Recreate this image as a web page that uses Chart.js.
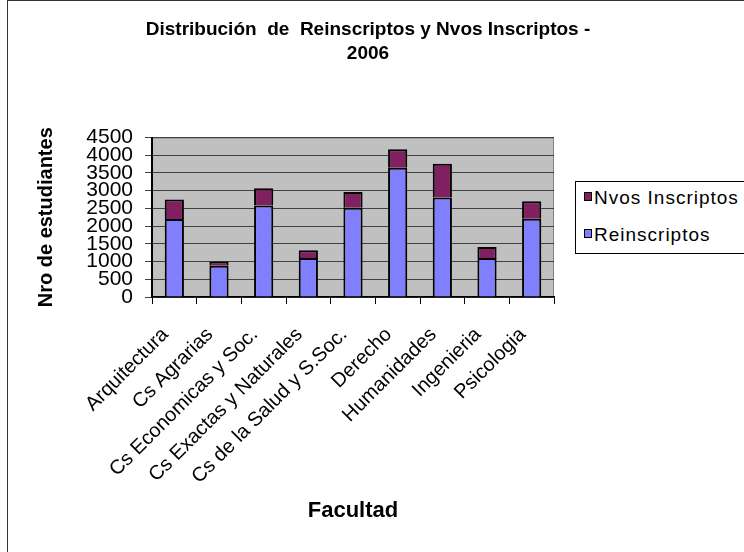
<!DOCTYPE html>
<html>
<head>
<meta charset="utf-8">
<title>Distribución de Reinscriptos y Nvos Inscriptos - 2006</title>
<script src="https://cdn.jsdelivr.net/npm/chart.js@4.4.1/dist/chart.umd.min.js"></script>
<style>
  body { margin: 0; overflow: hidden; background: #fff; font-family: Arial, "Liberation Sans", sans-serif; }
  #frame { position: absolute; left: 7px; top: 0; width: 800px; height: 620px; border: 1px solid #333; }
  #wrap { position: absolute; left: 0; top: 0; width: 736px; height: 552px; }
  #legend { position: absolute; left: 575px; top: 181px; width: 200px; height: 71px; border: 1px solid #000; background: #fff; }
  #legend div { position: absolute; left: 8px; font-size: 19px; line-height: 20px; letter-spacing: 1px; color: #000; white-space: nowrap; }
  #legend span { display: inline-block; width: 6px; height: 7px; border: 1px solid #000; margin-right: 2px; vertical-align: 3px; }
</style>
</head>
<body>
<div id="frame"></div>
<div id="wrap"><canvas id="chart"></canvas></div>
<div id="legend"></div>
<script>
// facultades y cantidades 2006
let facultades = ["Arquitectura", "Cs Agrarias", "Cs Economicas y Soc.", "Cs Exactas y Naturales",
    "Cs de la Salud y S.Soc.", "Derecho", "Humanidades", "Ingenieria", "Psicologia"];
let reinscriptos = [2200, 880, 2580, 1100, 2520, 3650, 2810, 1100, 2210];
let nvosInscriptos = [550, 120, 490, 220, 440, 520, 950, 310, 490];
let yTicks = [0, 500, 1000, 1500, 2000, 2500, 3000, 3500, 4000, 4500];

// fondo gris del area de trazado
const plotBg = {
    id: "plotBg",
    beforeDraw(chart) {
        let a = chart.chartArea;
        let ctx = chart.ctx;
        ctx.save();
        ctx.fillStyle = "#c0c0c0";
        ctx.fillRect(a.left, a.top, a.right - a.left, a.bottom - a.top);
        ctx.strokeStyle = "#808080";
        ctx.lineWidth = 1;
        ctx.strokeRect(a.left + 0.5, a.top + 0.5, a.right - a.left - 1, a.bottom - a.top);
        ctx.restore();
    }
};

let chart = new Chart(document.getElementById("chart"), {
    type: "bar",
    data: {
        labels: facultades,
        datasets: [
            { label: "Reinscriptos", data: reinscriptos, backgroundColor: "#8080ff", borderColor: "#000", borderWidth: 2 },
            { label: "Nvos Inscriptos", data: nvosInscriptos, backgroundColor: "#802060", borderColor: "#000", borderWidth: 2 }
        ]
    },
    plugins: [plotBg],
    options: {
        responsive: true,
        maintainAspectRatio: false,
        animation: false,
        categoryPercentage: 1,
        barPercentage: 0.43,
        plugins: {
            legend: { display: false },
            tooltip: { enabled: false },
            title: {
                display: true,
                text: ["Distribución  de  Reinscriptos y Nvos Inscriptos -", "2006"],
                color: "#000",
                font: { family: "Arial", size: 19, weight: "bold", lineHeight: 1.25 },
                padding: { top: 18, bottom: 72 }
            }
        },
        scales: {
            x: {
                stacked: true,
                grid: { drawOnChartArea: false, offset: true, color: "#000", tickLength: 7 },
                border: { color: "#000", width: 1.5 },
                ticks: { color: "#000", font: { family: "Arial", size: 20 }, minRotation: 45, maxRotation: 45, autoSkip: false, padding: 19, labelOffset: -9 },
                title: { display: true, text: "Facultad", color: "#000", font: { family: "Arial", size: 22, weight: "bold" }, padding: { top: 0, bottom: 28 } },
                afterFit(scale) {
                    scale.height = 255;
                    // espacio a la derecha para la leyenda
                    scale.paddingRight = 182;
                }
            },
            y: {
                stacked: true,
                min: 0,
                max: 4500,
                afterBuildTicks(scale) { scale.ticks = yTicks.map(v => ({ value: v })); },
                grid: { color: "#404040", tickLength: 7 },
                border: { color: "#000", width: 2 },
                ticks: {
                    color: "#000", font: { family: "Arial", size: 21, lineHeight: 1 }, autoSkip: false, padding: 12,
                    callback: v => String(v)
                },
                title: { display: true, text: "Nro de estudiantes", color: "#000", font: { family: "Arial", size: 20, weight: "bold" }, padding: { top: 34, bottom: 0 } },
                afterFit(scale) { scale.width = 152; }
            }
        }
    }
});

// leyenda html a partir de los datasets (orden inverso como en el original)
let legend = document.getElementById("legend");
chart.data.datasets.slice().reverse().forEach((ds, i) => {
    let row = document.createElement("div");
    row.style.top = (6 + i * 37) + "px";
    row.innerHTML = '<span style="background:' + ds.backgroundColor + '"></span>' + ds.label;
    legend.appendChild(row);
});
</script>
</body>
</html>
